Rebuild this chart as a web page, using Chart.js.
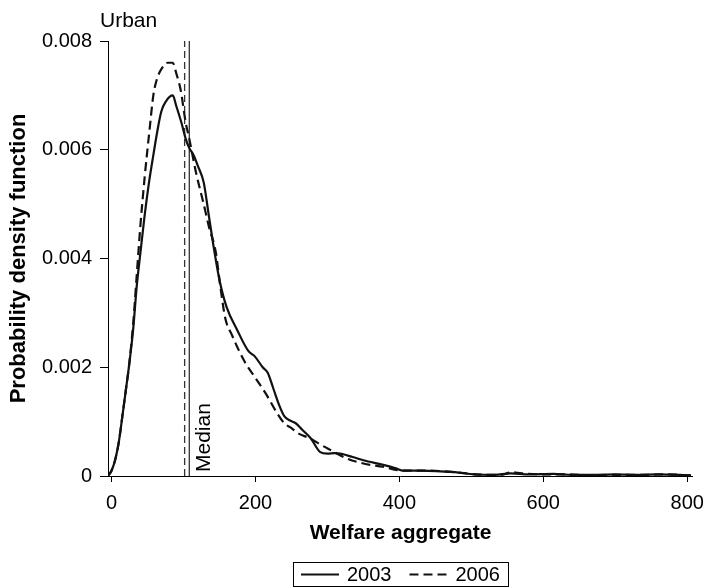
<!DOCTYPE html>
<html><head><meta charset="utf-8">
<style>html,body{margin:0;padding:0;background:#fff}#wrap{width:713px;height:587px;position:relative}</style>
<script src="https://cdn.jsdelivr.net/npm/chart.js@4/dist/chart.umd.min.js"></script>
</head><body><div id="wrap"><canvas id="c" width="713" height="587"></canvas></div>
<script>
const panelTitle = 'Urban';
const seriesNames = ['2003', '2006'];
const x2003 = [-5,0,5,10,15,20,24,30,35,40,46,52,58,63,69,76,85,90,97,103,108,114,120,128,135,142,150,160,174,190,199,210,217,225,233,240,248,256,265,277,290,300,310,318,335,350,379,395,404,430,477,505,532,555,580,614,640,669,700,730,760,790,805];
const y2003 = [0,0.0001,0.0003,0.00062,0.0011,0.0016,0.002,0.0027,0.0035,0.0041,0.0048,0.0054,0.0059,0.0063,0.0067,0.0069,0.0070,0.0068,0.0065,0.0062,0.00603,0.0059,0.0057,0.0054,0.0048,0.0042,0.0036,0.0031,0.0027,0.0023,0.0022,0.0020,0.0019,0.0016,0.0013,0.0011,0.00102,0.00097,0.00085,0.00069,0.00044,0.00041,0.00042,0.00041,0.00035,0.00029,0.0002,0.00014,0.0001,0.0001,0.00007,0.00003,0.00002,0.00005,0.00003,0.00004,0.00002,0.00002,0.00003,0.00002,0.00003,0.00002,0.00001];
const x2006 = [-5,0,5,10,15,20,24,30,35,40,46,53,58,63,70,78,85,90,96,103,108,117,128,135,145,151,158,167,185,200,215,228,240,250,260,276,290,304,327,350,377,404,440,477,505,532,545,555,570,600,630,669,700,740,770,805];
const y2006 = [0,0.0001,0.0003,0.00062,0.0011,0.0016,0.002,0.0028,0.0037,0.0046,0.0055,0.0064,0.0070,0.0073,0.0075,0.0076,0.0076,0.0074,0.0071,0.0065,0.0062,0.0056,0.0050,0.0046,0.0041,0.0035,0.0029,0.0026,0.0021,0.0018,0.0015,0.0012,0.00097,0.00088,0.00078,0.00069,0.00058,0.00048,0.00032,0.00023,0.00017,0.0001,0.0001,0.00007,0.00003,0.00002,0.00003,0.00007,0.00005,0.00003,0.00003,0.00001,0.00002,0.00002,0.00003,0.00001];
const median2003 = 108;
const median2006 = 101.5;
const medianLabel = 'Median';
const xTicks = [0, 200, 400, 600, 800];
const yTicks = [0, 0.002, 0.004, 0.006, 0.008];
const xTitle = 'Welfare aggregate';
const yTitle = 'Probability density function';

const FONT = '"Liberation Sans", Arial, Helvetica, sans-serif';
const pts = (xs, ys) => xs.map((x, i) => ({x, y: ys[i]}));
const vline = v => [{x: v, y: yTicks[0]}, {x: v, y: yTicks[yTicks.length - 1]}];

const extras = {
  id: 'extras',
  afterDraw(chart) {
    const ctx = chart.ctx;
    const xs = chart.scales.x, ys = chart.scales.y;
    ctx.save();
    ctx.fillStyle = '#000';
    // panel title
    ctx.font = '21px ' + FONT;
    ctx.textAlign = 'left';
    ctx.textBaseline = 'alphabetic';
    ctx.fillText(panelTitle, 100, 27);
    // median label
    ctx.save();
    ctx.translate(xs.getPixelForValue(median2003) + 15, ys.getPixelForValue(0) - 4);
    ctx.rotate(-Math.PI / 2);
    ctx.textAlign = 'left';
    ctx.textBaseline = 'middle';
    ctx.fillText(medianLabel, 0, 0);
    ctx.restore();
    // legend
    const items = chart.data.datasets.filter(d => d.inLegend);
    ctx.font = '20px ' + FONT;
    const sample = 38, gap = 8, itemGap = 18, pad = 8;
    const widths = items.map(d => sample + gap + ctx.measureText(d.label).width);
    const total = pad * 2 + widths.reduce((a, b) => a + b, 0) + itemGap * (items.length - 1);
    const cx = (chart.chartArea.left + chart.chartArea.right) / 2;
    let left = Math.round(cx - total / 2);
    const top = 562, h = 24;
    ctx.strokeStyle = '#000';
    ctx.lineWidth = 1;
    ctx.setLineDash([]);
    ctx.strokeRect(left + 0.5, top + 0.5, Math.round(total), h);
    let x = left + pad;
    const cy = top + h / 2 + 0.5;
    items.forEach((d, i) => {
      ctx.save();
      ctx.strokeStyle = d.borderColor;
      ctx.lineWidth = d.borderWidth;
      ctx.setLineDash(d.borderDash || []);
      ctx.beginPath();
      ctx.moveTo(x, cy);
      ctx.lineTo(x + sample, cy);
      ctx.stroke();
      ctx.restore();
      ctx.fillStyle = '#000';
      ctx.textAlign = 'left';
      ctx.textBaseline = 'middle';
      ctx.fillText(d.label, x + sample + gap, cy + 1);
      x += widths[i] + itemGap;
    });
    ctx.restore();
  }
};

new Chart(document.getElementById('c'), {
  type: 'line',
  data: {
    datasets: [
      {label: seriesNames[0], inLegend: true, data: pts(x2003, y2003), borderColor: '#111', borderWidth: 2.2, pointRadius: 0, cubicInterpolationMode: 'monotone', fill: false},
      {label: seriesNames[1], inLegend: true, data: pts(x2006, y2006), borderColor: '#111', borderWidth: 2.2, borderDash: [9, 5], pointRadius: 0, cubicInterpolationMode: 'monotone', fill: false},
      {label: 'median2003', data: vline(median2003), borderColor: '#333', borderWidth: 1.3, pointRadius: 0, fill: false},
      {label: 'median2006', data: vline(median2006), borderColor: '#333', borderWidth: 1.3, borderDash: [7, 4], pointRadius: 0, fill: false}
    ]
  },
  options: {
    responsive: false,
    devicePixelRatio: 1,
    animation: false,
    layout: {padding: {top: 41, right: 11, left: 0, bottom: 0}},
    plugins: {legend: {display: false}, tooltip: {enabled: false}, title: {display: false}},
    scales: {
      x: {
        type: 'linear', min: -5, max: 808,
        afterBuildTicks: s => { s.ticks = xTicks.map(v => ({value: v})); },
        afterFit: s => { s.height = 111; },
        grid: {drawOnChartArea: false, drawTicks: true, tickLength: 6, color: '#000', lineWidth: 1},
        border: {display: true, color: '#000', width: 1},
        ticks: {color: '#000', font: {family: FONT, size: 20}, padding: 9, maxRotation: 0, autoSkip: false, callback: v => String(v)},
        title: {display: true, text: xTitle, color: '#000', font: {family: FONT, size: 21, weight: 'bold'}, padding: {top: 0, bottom: 41}}
      },
      y: {
        type: 'linear', min: 0, max: 0.008,
        afterBuildTicks: s => { s.ticks = yTicks.map(v => ({value: v})); },
        afterFit: s => { s.width = 108; },
        grid: {drawOnChartArea: false, drawTicks: true, tickLength: 8, color: '#000', lineWidth: 1},
        border: {display: true, color: '#000', width: 1},
        ticks: {color: '#000', font: {family: FONT, size: 20}, padding: 8, autoSkip: false, callback: v => v === 0 ? '0' : v.toFixed(3)},
        title: {display: true, text: yTitle, color: '#000', font: {family: FONT, size: 22, weight: 'bold'}, padding: {top: 6, bottom: 0}}
      }
    }
  },
  plugins: [extras]
});
</script>
</body></html>
